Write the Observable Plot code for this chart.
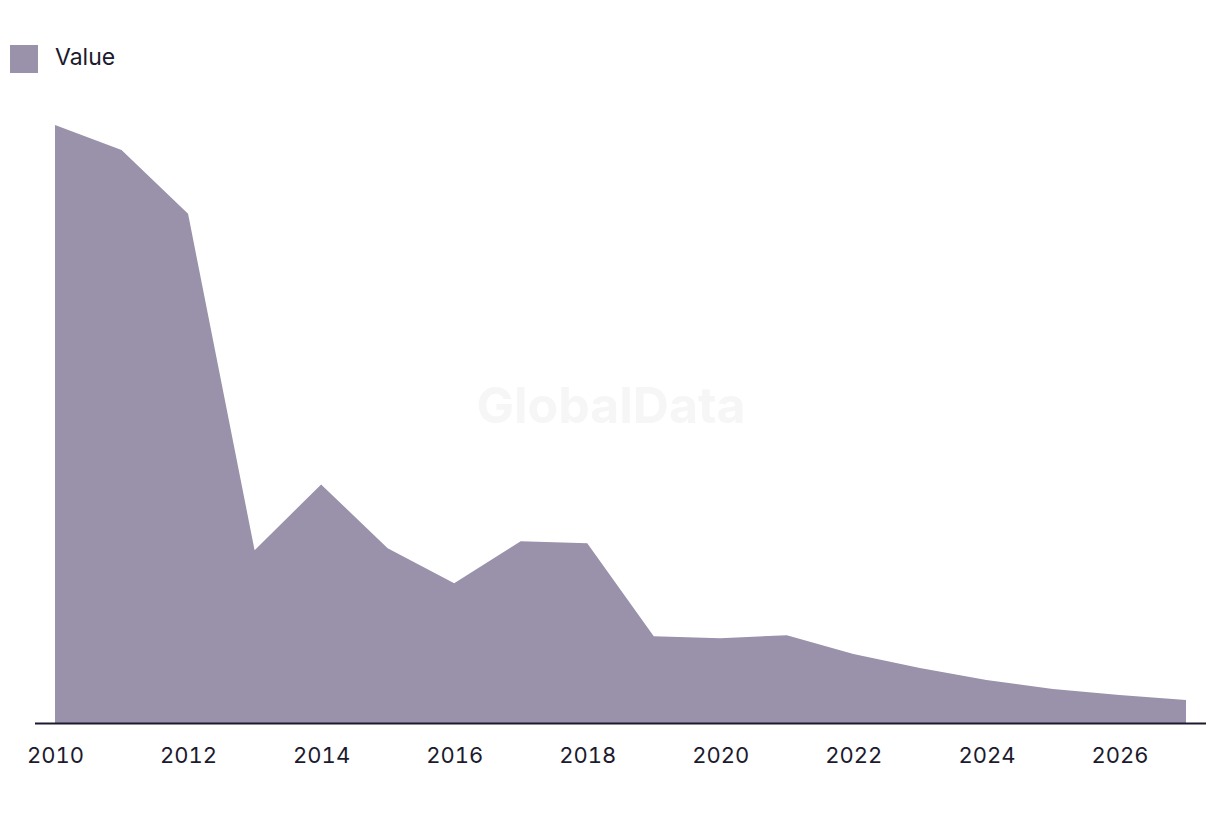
<!DOCTYPE html>
<html>
<head>
<meta charset="utf-8">
<script src="https://cdn.jsdelivr.net/npm/d3@7"></script>
<script src="https://cdn.jsdelivr.net/npm/@observablehq/plot@0.6"></script>
<style>
  html, body { margin: 0; padding: 0; background: #fff; }
  body { width: 1220px; height: 814px; overflow: hidden; font-family: Inter, "Liberation Sans", sans-serif; color: #1b1a2e; }
  #legend { height: 100px; position: relative; }
  #legend .sw { position: absolute; left: 10px; top: 45px; width: 28px; height: 28px; background: #9a91aa; }
  #legend .lb { position: absolute; left: 55px; top: 42px; font-size: 23px; line-height: 30px; color: #1b1a2e; }
</style>
</head>
<body>
<div id="legend"><div class="sw"></div><div class="lb">Value</div></div>
<div id="chart"></div>
<script>
const years = [2010, 2011, 2012, 2013, 2014, 2015, 2016, 2017, 2018, 2019, 2020, 2021, 2022, 2023, 2024, 2025, 2026, 2027];
const values = [599, 574, 510, 173, 239, 175, 140, 182, 180, 87, 85, 88, 69, 55, 43, 34, 28, 23];
const tickYears = [2010, 2012, 2014, 2016, 2018, 2020, 2022, 2024, 2026];
const seriesName = "Value";
const watermark = "GlobalData";

const data = years.map((y, i) => ({year: y, value: values[i], series: seriesName}));

const chart = Plot.plot({
  width: 1220,
  height: 714,
  marginLeft: 35,
  marginRight: 14,
  marginTop: 24,
  marginBottom: 91,
  style: {fontFamily: "Inter, 'Liberation Sans', sans-serif", fontSize: "22px", color: "#1b1a2e", background: "#fff"},
  x: {domain: [2010, 2027], inset: 20, label: null, ticks: tickYears, tickFormat: d => String(d), tickSize: 0, tickPadding: 24},
  y: {domain: [0, 600], axis: null},
  marks: [
    Plot.text([watermark], {frameAnchor: "middle", dx: -10, dy: -17, text: d => d, fontSize: 50, fontWeight: "bold", fill: "#f6f6f6"}),
    Plot.areaY(data, {x: "year", y: "value", fill: "#9a91aa"}),
    Plot.ruleY([0], {stroke: "#1b1a2e", strokeWidth: 2}),
    Plot.axisX({ticks: tickYears, tickFormat: d => String(d), tickSize: 0, tickPadding: 24, fontSize: 22, fill: "#1b1a2e"})
  ]
});
document.getElementById("chart").appendChild(chart);
</script>
</body>
</html>
